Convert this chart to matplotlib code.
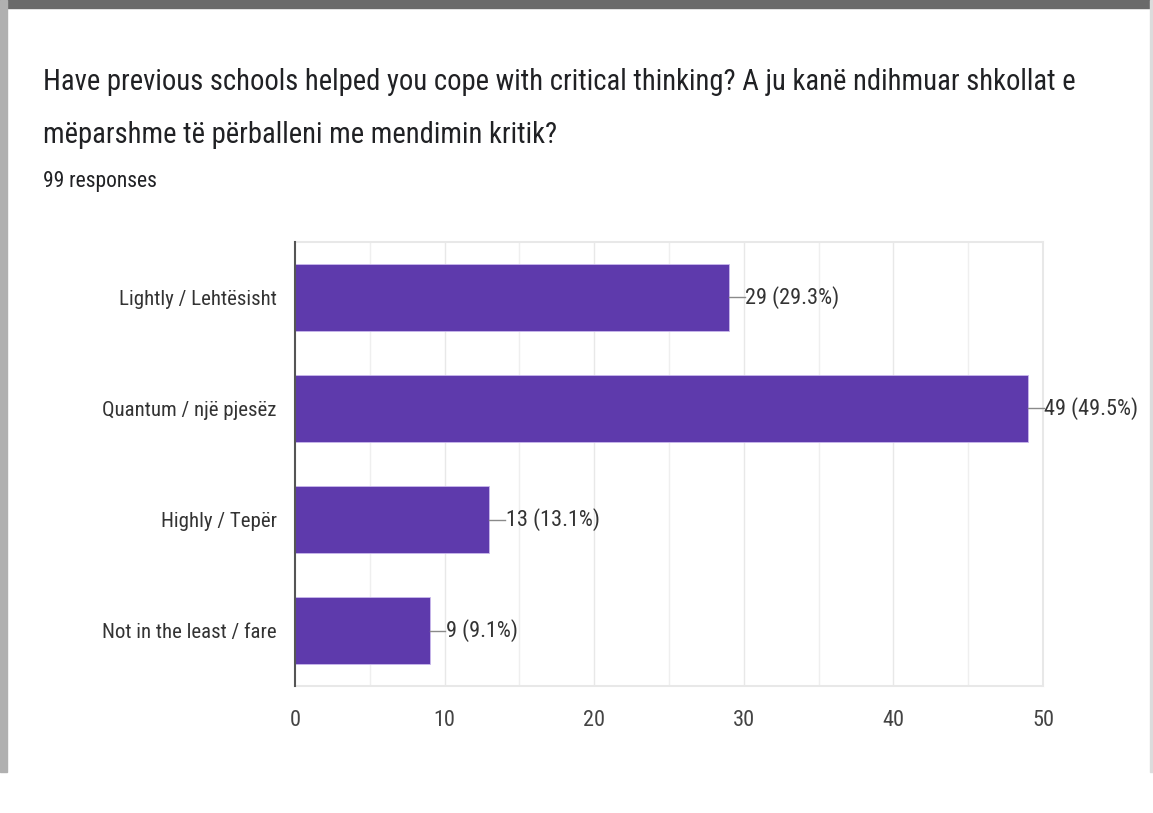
import matplotlib.pyplot as plt
from matplotlib.patches import Rectangle
from matplotlib import font_manager

categories = ["Lightly / Lehtësisht", "Quantum / një pjesëz", "Highly / Tepër", "Not in the least / fare"]
counts = [29, 49, 13, 9]
total = 99
xticks = [0, 10, 20, 30, 40, 50]

names = {f.name for f in font_manager.fontManager.ttflist}
fam = next(n for n in ["Roboto Condensed", "Archivo Narrow", "Roboto"] if n in names)
plt.rcParams["font.family"] = [fam, "DejaVu Sans"]

W, H = 1153, 813
fig = plt.figure(figsize=(W / 100, H / 100), dpi=100)
fig.patch.set_facecolor("white")

# window frame shadow
fig.patches.append(Rectangle((0, 1 - 8 / H), 1, 8 / H, transform=fig.transFigure,
                             color="#6a6a6a", zorder=0))
fig.patches.append(Rectangle((0, 0.05), 7 / W, 0.95, transform=fig.transFigure,
                             color="#b0b0b0", zorder=0))
fig.patches.append(Rectangle((1 - 3 / W, 0.05), 3 / W, 0.95, transform=fig.transFigure,
                             color="#dcdcdc", zorder=0))

fig.text(43 / W, 1 - 82 / H, "Have previous schools helped you cope with critical thinking? A ju kanë ndihmuar shkollat e",
         fontsize=20.6, color="#202124", va="center")
fig.text(43 / W, 1 - 135 / H, "mëparshme të përballeni me mendimin kritik?",
         fontsize=20.6, color="#202124", va="center")
fig.text(43 / W, 1 - 182 / H, "99 responses", fontsize=15.5, color="#202124", va="center")

left, right, top, bottom = 295, 1043, 242, 686
ax = fig.add_axes([left / W, 1 - bottom / H, (right - left) / W, (bottom - top) / H])

y = list(range(len(categories)))
ax.barh(y, counts, height=0.61, color="#5e3aac", edgecolor="#c9b8ec", linewidth=0.6, zorder=3)
ax.set_ylim(len(categories) - 0.5, -0.5)
ax.set_xlim(0, 50)

for v in range(5, 50, 5):
    ax.axvline(v, color="#efefef" if v % 10 else "#e8e8e8", lw=1, zorder=1)

# leader line + value label for every bar
for i, c in enumerate(counts):
    ax.plot([c, c + 1.05], [i, i], color="#8a8a8a", lw=1, zorder=4, clip_on=False)
    ax.text(c + 1.1, i, f"{c} ({c / total * 100:.1f}%)", va="center", ha="left",
            fontsize=16, color="#333333", zorder=5)

ax.set_yticks(y)
ax.set_yticklabels(categories, fontsize=15, color="#333333")
ax.set_xticks(xticks)
ax.set_xticklabels([str(t) for t in xticks], fontsize=16, color="#444444")
ax.tick_params(axis="both", length=0)
ax.tick_params(axis="y", pad=13)
ax.tick_params(axis="x", pad=17)

for s in ["top", "right", "bottom"]:
    ax.spines[s].set_color("#e8e8e8")
    ax.spines[s].set_linewidth(1.5)
ax.spines["left"].set_color("#555555")
ax.spines["left"].set_linewidth(1.5)
ax.spines["left"].set_zorder(6)

fig.savefig("out.png", dpi=100)
